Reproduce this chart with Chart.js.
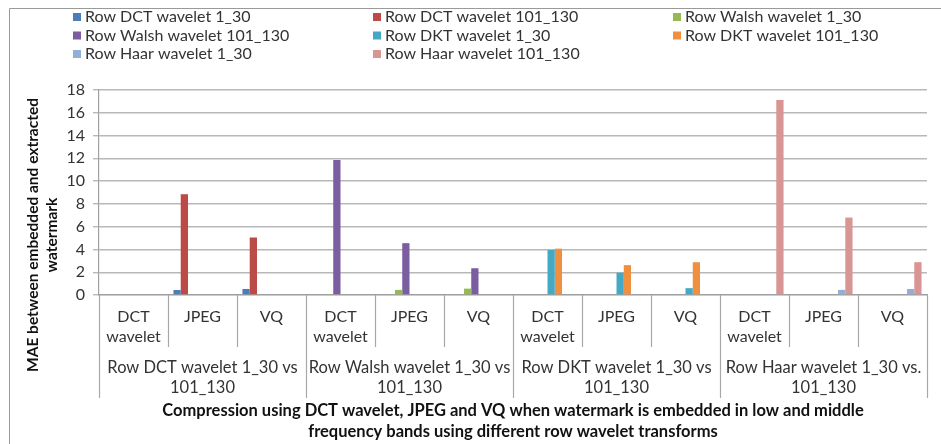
<!DOCTYPE html>
<html>
<head>
<meta charset="utf-8">
<script src="https://cdn.jsdelivr.net/npm/chart.js@4/dist/chart.umd.min.js"></script>
<style>
  html, body { margin: 0; padding: 0; background: #fff; }
  #wrap { position: relative; width: 941px; height: 444px; }
</style>
</head>
<body>
<div id="wrap"><canvas id="c" width="941" height="444"></canvas></div>
<script>
// ---- data ----
const subLabels = [["DCT","wavelet"],["JPEG"],["VQ"],["DCT","wavelet"],["JPEG"],["VQ"],["DCT","wavelet"],["JPEG"],["VQ"],["DCT","wavelet"],["JPEG"],["VQ"]];
const groupLabels = [["Row DCT wavelet 1_30 vs","101_130"],["Row Walsh wavelet 1_30 vs","101_130"],["Row DKT wavelet 1_30 vs","101_130"],["Row Haar wavelet 1_30 vs.","101_130"]];
const seriesNames = ["Row DCT wavelet 1_30","Row DCT wavelet 101_130","Row Walsh wavelet 1_30","Row Walsh wavelet 101_130","Row DKT wavelet 1_30","Row DKT wavelet 101_130","Row Haar wavelet 1_30","Row Haar wavelet 101_130"];
const dctLow   = [0, 0.44, 0.53, 0, 0, 0, 0, 0, 0, 0, 0, 0];
const dctMid   = [0, 8.85, 5.05, 0, 0, 0, 0, 0, 0, 0, 0, 0];
const walshLow = [0, 0, 0, 0.05, 0.45, 0.56, 0, 0, 0, 0, 0, 0];
const walshMid = [0, 0, 0, 11.85, 4.55, 2.35, 0, 0, 0, 0, 0, 0];
const dktLow   = [0, 0, 0, 0, 0, 0, 3.95, 1.96, 0.6, 0, 0, 0];
const dktMid   = [0, 0, 0, 0, 0, 0, 4.07, 2.62, 2.88, 0, 0, 0];
const haarLow  = [0, 0, 0, 0, 0, 0, 0, 0, 0, 0.07, 0.45, 0.53];
const haarMid  = [0, 0, 0, 0, 0, 0, 0, 0, 0, 17.12, 6.8, 2.88];
const yTitle = ["MAE between embedded and extracted", "watermark"];
const xTitle = ["Compression using DCT wavelet, JPEG and VQ when watermark is embedded in low and middle", "frequency bands using different row wavelet transforms"];

const seriesValues = [dctLow, dctMid, walshLow, walshMid, dktLow, dktMid, haarLow, haarMid];
const colors = ['#4A7DBA','#BC4A47','#97B954','#7B5E9F','#45A8C4','#F08F3E','#93AFD8','#D89593'];

const FONT = 'Lato, "Open Sans", sans-serif';
const TXT = '#333333';

const decor = {
  id: 'decor',
  afterDraw(chart) {
    const ctx = chart.ctx;
    const area = chart.chartArea;
    const n = subLabels.length;
    const w = (area.right - area.left) / n;
    ctx.save();
    // outer border (left and top)
    ctx.strokeStyle = '#9a9a9a';
    ctx.lineWidth = 1;
    ctx.beginPath();
    ctx.moveTo(9.5, 444); ctx.lineTo(9.5, 8.5); ctx.lineTo(941, 8.5);
    ctx.stroke();
    // category dividers
    ctx.strokeStyle = '#a8a8a8';
    ctx.lineWidth = 1.2;
    for (let i = 0; i <= n; i++) {
      const x = Math.round(area.left + i * w) + 0.5;
      const long = (i % 3 === 0);
      ctx.beginPath();
      ctx.moveTo(x, area.bottom);
      ctx.lineTo(x, long ? 398 : 347);
      ctx.stroke();
    }
    // group labels
    ctx.fillStyle = TXT;
    ctx.font = '16.5px ' + FONT;
    ctx.textAlign = 'center';
    ctx.textBaseline = 'middle';
    groupLabels.forEach((lines, g) => {
      const cx = area.left + (g * 3 + 1.5) * w;
      lines.forEach((t, k) => ctx.fillText(t, cx, 368 + k * 20));
    });
    // x title
    ctx.fillStyle = '#111';
    ctx.font = 'bold 16.5px ' + FONT;
    const cxT = (area.left + area.right) / 2;
    xTitle.forEach((t, k) => ctx.fillText(t, cxT, 411 + k * 21));
    // y title (rotated)
    ctx.save();
    ctx.font = 'bold 15.5px ' + FONT;
    ctx.translate(0, 235);
    ctx.rotate(-Math.PI / 2);
    ctx.textAlign = 'center';
    yTitle.forEach((t, k) => ctx.fillText(t, 0, 33 + k * 19));
    ctx.restore();
    // legend
    ctx.font = '16px ' + FONT;
    ctx.textAlign = 'left';
    seriesNames.forEach((name, i) => {
      const col = i % 3, row = Math.floor(i / 3);
      const x = 73 + col * 300;
      const y = 17 + row * 18.5;
      ctx.fillStyle = colors[i];
      ctx.fillRect(x, y - 4, 8, 8);
      ctx.fillStyle = TXT;
      ctx.fillText(name, x + 12, y);
    });
    ctx.restore();
  }
};

new Chart(document.getElementById('c'), {
  type: 'bar',
  data: {
    labels: subLabels,
    datasets: seriesNames.map((name, i) => ({
      label: name,
      data: seriesValues[i],
      backgroundColor: colors[i],
      borderWidth: 0,
      categoryPercentage: 8 / 9.5,
      barPercentage: 1
    }))
  },
  options: {
    responsive: false,
    animation: false,
    layout: { padding: { left: 0, right: 14, top: 90, bottom: 0 } },
    plugins: { legend: { display: false }, tooltip: { enabled: false } },
    scales: {
      x: {
        grid: { display: false, drawTicks: false },
        border: { display: true, color: '#a0a0a0', width: 1.2 },
        ticks: {
          color: TXT,
          font: { family: FONT, size: 16, lineHeight: 1.25 },
          padding: 12,
          maxRotation: 0, minRotation: 0, autoSkip: false
        },
        afterFit(s) { s.height = 149; }
      },
      y: {
        min: 0, max: 18,
        ticks: { stepSize: 2, color: TXT, font: { family: FONT, size: 16 }, padding: 8 },
        grid: { color: '#b8b8b8', lineWidth: 1.4, tickLength: 6, drawTicks: true },
        border: { display: true, color: '#a0a0a0', width: 1.2 },
        afterFit(s) { s.width = 99; }
      }
    }
  },
  plugins: [decor]
});
</script>
</body>
</html>
